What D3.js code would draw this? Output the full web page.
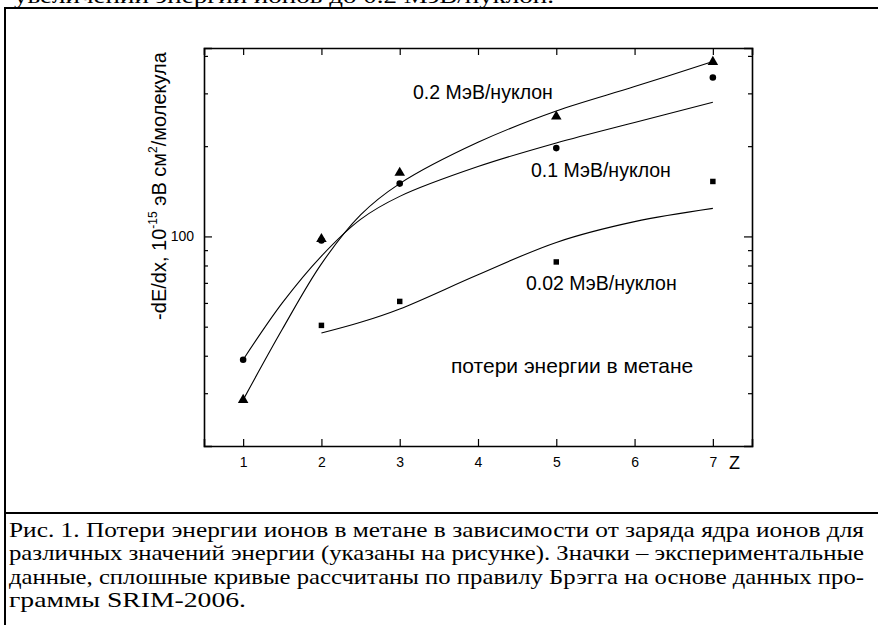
<!DOCTYPE html>
<html>
<head>
<meta charset="utf-8">
<script src="https://cdn.jsdelivr.net/npm/d3@7"></script>
<style>
  body { margin: 0; background: #fff; }
  svg { display: block; }
  .axis path, .axis line { stroke: #000; }
  .axis text { font-family: "Liberation Sans", Arial, sans-serif; fill: #000; }
</style>
</head>
<body>
<script>
// ion charge Z, calculated curves (SRIM, Bragg rule)
const zCalc = [1, 1.5, 2, 2.5, 3, 4, 5, 6, 7];
const calc02 = [28.5, 49, 81, 118, 150, 206, 262, 316, 383];
const calc01 = [38.8, 60, 86, 114, 136, 171, 205, 240, 280];
const calc002 = [null, null, 47.6, 51.7, 57.3, 74.5, 95.5, 112, 124];

// experimental points
const zExp = [1, 2, 3, 5, 7];
const exp02 = [28.5, 98, 163, 251, 382];
const exp01 = [38.8, 97, 150, 197, 339];
const exp002 = [null, 50.5, 60.7, 82.2, 152.5];

const xTicks = [1, 2, 3, 4, 5, 6, 7];
const yMajor = [100];
const yMinor = [30, 40, 50, 60, 70, 80, 90, 200, 300, 400];

const captionLines = [
  'Рис. 1. Потери энергии ионов в метане в зависимости от заряда ядра ионов для',
  'различных значений энергии (указаны на рисунке). Значки – экспериментальные',
  'данные, сплошные кривые рассчитаны по правилу Брэгга на основе данных про-',
  'граммы SRIM-2006.'
];
const captionWidths = [855, 855, 855, 237];

const W = 878, H = 625;
const plot = { left: 204, right: 752, top: 48, bottom: 446 };
const SANS = '"Liberation Sans", Arial, sans-serif';
const SERIF = '"Liberation Serif", "Times New Roman", serif';

const svg = d3.select('body').append('svg')
  .attr('width', W)
  .attr('height', H);

const x = d3.scaleLinear().domain([0.5, 7.5]).range([plot.left, plot.right]);
const y = d3.scaleLog().domain([20, 425]).range([plot.bottom, plot.top]);

// page frame (table cell), the previous text line is cut at the top
svg.append('text')
  .attr('x', 14).attr('y', 3)
  .attr('font-family', SERIF).attr('font-size', 20)
  .attr('textLength', 540).attr('lengthAdjust', 'spacingAndGlyphs')
  .text('увеличении энергии ионов до 0.2 МэВ/нуклон.');
svg.append('line').attr('x1', 4).attr('x2', W).attr('y1', 8).attr('y2', 8)
  .attr('stroke', '#000').attr('stroke-width', 2);
svg.append('line').attr('x1', 5).attr('x2', 5).attr('y1', 7).attr('y2', H)
  .attr('stroke', '#000').attr('stroke-width', 2);
svg.append('line').attr('x1', 4).attr('x2', W).attr('y1', 513).attr('y2', 513)
  .attr('stroke', '#000').attr('stroke-width', 2);

// caption, justified lines
captionLines.forEach((t, i) => {
  svg.append('text')
    .attr('x', 9).attr('y', 537 + i * 23.3)
    .attr('font-family', SERIF).attr('font-size', 21)
    .attr('textLength', captionWidths[i]).attr('lengthAdjust', 'spacingAndGlyphs')
    .text(t);
});

// axes: ticks point inward on all four sides
const g = svg.append('g');

g.append('g').attr('class', 'axis')
  .attr('transform', `translate(0,${plot.bottom})`)
  .call(d3.axisBottom(x).tickValues(xTicks).tickSize(-7).tickPadding(11).tickFormat(d3.format('d')))
  .call(a => a.selectAll('text').attr('font-size', 14));

g.append('g').attr('class', 'axis')
  .attr('transform', `translate(0,${plot.top})`)
  .call(d3.axisTop(x).tickValues(xTicks).tickSize(-7).tickFormat(''));

g.append('g').attr('class', 'axis')
  .attr('transform', `translate(${plot.left},0)`)
  .call(d3.axisLeft(y).tickValues(yMajor).tickSize(-8).tickPadding(10).tickFormat(d3.format('d')))
  .call(a => a.selectAll('text').attr('font-size', 14));

g.append('g').attr('class', 'axis')
  .attr('transform', `translate(${plot.left},0)`)
  .call(d3.axisLeft(y).tickValues(yMinor).tickSize(-4).tickFormat(''))
  .call(a => a.select('.domain').remove());

g.append('g').attr('class', 'axis')
  .attr('transform', `translate(${plot.right},0)`)
  .call(d3.axisRight(y).tickValues(yMajor).tickSize(-8).tickFormat(''));

g.append('g').attr('class', 'axis')
  .attr('transform', `translate(${plot.right},0)`)
  .call(d3.axisRight(y).tickValues(yMinor).tickSize(-4).tickFormat(''))
  .call(a => a.select('.domain').remove());

g.selectAll('.axis .domain').attr('stroke-width', 1.6);
g.selectAll('.axis line').attr('stroke-width', 1.2);

// Z label
svg.append('text')
  .attr('x', 729).attr('y', 469)
  .attr('font-family', SANS).attr('font-size', 18)
  .text('Z');

// y label
const yl = svg.append('text')
  .attr('transform', 'translate(166,186) rotate(-90)')
  .attr('text-anchor', 'middle')
  .attr('font-family', SANS).attr('font-size', 20);
yl.append('tspan').text('-dE/dx, 10');
yl.append('tspan').attr('font-size', 12).attr('dy', -9).text('-15');
yl.append('tspan').attr('dy', 9).text(' эВ см');
yl.append('tspan').attr('font-size', 12).attr('dy', -9).text('2');
yl.append('tspan').attr('dy', 9).text('/молекула');

// calculated curves
const line = d3.line()
  .defined(d => d[1] != null)
  .x(d => x(d[0]))
  .y(d => y(d[1]))
  .curve(d3.curveCatmullRom);

[calc02, calc01, calc002].forEach(vals => {
  svg.append('path')
    .datum(zCalc.map((z, i) => [z, vals[i]]))
    .attr('d', line)
    .attr('fill', 'none')
    .attr('stroke', '#000')
    .attr('stroke-width', 1.1);
});

// experimental markers
const marks = [
  { vals: exp01, type: d3.symbolCircle, size: 34 },
  { vals: exp02, type: d3.symbolTriangle, size: 48 },
  { vals: exp002, type: d3.symbolSquare, size: 30 }
];
marks.forEach(m => {
  svg.append('g').selectAll('path')
    .data(zExp.map((z, i) => [z, m.vals[i]]).filter(d => d[1] != null))
    .join('path')
    .attr('transform', d => `translate(${x(d[0])},${y(d[1])})`)
    .attr('d', d3.symbol(m.type, m.size))
    .attr('fill', '#000');
});

// curve labels
const labels = [
  { text: '0.2 МэВ/нуклон', x: 413, y: 99, size: 19.5 },
  { text: '0.1 МэВ/нуклон', x: 531, y: 177, size: 19.5 },
  { text: '0.02 МэВ/нуклон', x: 526, y: 290, size: 19.5 },
  { text: 'потери энергии в метане', x: 451, y: 373, size: 21 }
];
svg.append('g').selectAll('text')
  .data(labels)
  .join('text')
  .attr('x', d => d.x)
  .attr('y', d => d.y)
  .attr('font-family', SANS)
  .attr('font-size', d => d.size)
  .text(d => d.text);
</script>
</body>
</html>
